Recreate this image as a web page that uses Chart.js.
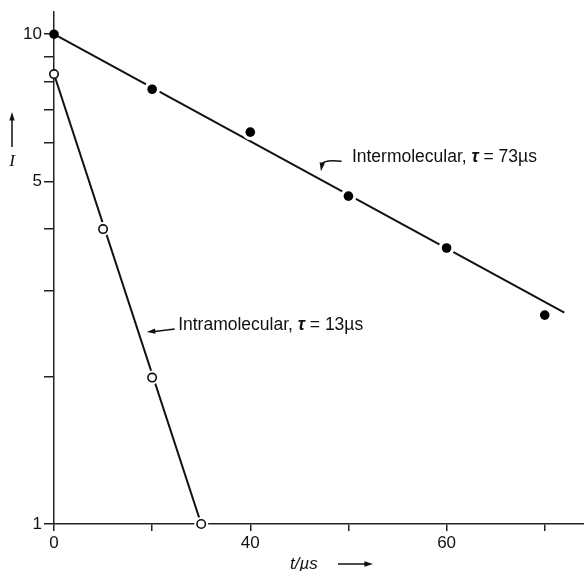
<!DOCTYPE html>
<html>
<head>
<meta charset="utf-8">
<script src="https://cdn.jsdelivr.net/npm/chart.js@4.4.1/dist/chart.umd.min.js"></script>
<style>
  html, body { margin: 0; padding: 0; background: #fff; }
  #wrap { width: 584px; height: 571px; position: relative; }
</style>
</head>
<body>
<div id="wrap"><canvas id="myChart" width="584" height="571"></canvas></div>
<script>
// time in microseconds, intensity (log axis)
const tInter = [0, 20, 40, 60, 80, 100];
const iInter = [10, 7.72, 6.31, 4.67, 3.66, 2.67];
const tIntra = [0, 10, 20, 30];
const iIntra = [8.29, 4.0, 1.99, 1.0];

// straight fitted lines as drawn in the figure
const fitInterT = [0, 104];
const fitInterI = [10, 2.70];
const fitIntraT = [0, 30];
const fitIntraI = [8.29, 1.0];

const xTicks = [0, 20, 40, 60, 80, 100];
const xTickLabels = ['0', '', '40', '', '60', ''];
const yTicks = [1, 2, 3, 4, 5, 6, 7, 8, 9, 10];
const yTickLabels = ['1', '', '', '', '5', '', '', '', '', '10'];

const FONT = '"Liberation Sans", Arial, sans-serif';

function pts(xs, ys) {
    return xs.map((x, i) => ({ x: x, y: ys[i] }));
}

const annotations = {
    id: 'annotations',
    afterDatasetsDraw(chart) {
        const ctx = chart.ctx;
        const xs = chart.scales.x, ys = chart.scales.y;
        const px = v => xs.getPixelForValue(v);
        const py = v => ys.getPixelForValue(v);
        ctx.save();
        ctx.fillStyle = '#111';
        ctx.strokeStyle = '#111';
        ctx.textBaseline = 'middle';

        function label(x, y, parts) {
            let cx = x;
            parts.forEach(p => {
                ctx.font = (p.bold ? 'bold italic ' : '') + '17.5px ' + FONT;
                ctx.fillText(p.t, cx, y);
                cx += ctx.measureText(p.t).width;
            });
        }
        function head(x, y, ang) {
            ctx.beginPath();
            ctx.moveTo(x, y);
            ctx.lineTo(x - 9 * Math.cos(ang - 0.3), y - 9 * Math.sin(ang - 0.3));
            ctx.lineTo(x - 9 * Math.cos(ang + 0.3), y - 9 * Math.sin(ang + 0.3));
            ctx.closePath();
            ctx.fill();
        }

        // intermolecular
        label(px(60.7), py(5.61), [{ t: 'Intermolecular, ' }, { t: 'τ', bold: true }, { t: ' = 73µs' }]);
        let x0 = px(58.6), y0 = py(5.50), x1 = px(54.4), y1 = py(5.25);
        ctx.lineWidth = 1.5;
        ctx.beginPath();
        ctx.moveTo(x0, y0);
        ctx.quadraticCurveTo(x1 + 2, y0 - 2, x1, y1 - 6);
        ctx.stroke();
        head(x1, y1, Math.PI / 2 + 0.15);

        // intramolecular
        label(px(25.3), py(2.55), [{ t: 'Intramolecular, ' }, { t: 'τ', bold: true }, { t: ' = 13µs' }]);
        x0 = px(24.6); y0 = py(2.50); x1 = px(18.9); y1 = py(2.466);
        ctx.beginPath();
        ctx.moveTo(x0, y0);
        ctx.lineTo(x1 + 6, y1 - 0.3);
        ctx.stroke();
        head(x1, y1, Math.atan2(y1 - y0, x1 - x0));

        // axis titles
        ctx.lineWidth = 1.5;
        ctx.beginPath();
        ctx.moveTo(12, 147);
        ctx.lineTo(12, 118);
        ctx.stroke();
        head(12, 112, -Math.PI / 2);
        ctx.font = 'italic 17px "Liberation Serif", serif';
        ctx.textAlign = 'center';
        ctx.fillText('I', 12, 162);

        ctx.textAlign = 'left';
        ctx.font = 'italic 17px ' + FONT;
        ctx.fillText('t/µs', 290, 564);
        ctx.beginPath();
        ctx.moveTo(338, 564);
        ctx.lineTo(366, 564);
        ctx.stroke();
        head(373, 564, 0);
        ctx.restore();
    }
};

const ctx = document.getElementById('myChart').getContext('2d');

new Chart(ctx, {
    type: 'scatter',
    data: {
        datasets: [
            {
                label: 'inter fit',
                data: pts(fitInterT, fitInterI),
                showLine: true,
                borderColor: '#111',
                borderWidth: 2,
                pointRadius: 0,
                order: 3
            },
            {
                label: 'intra fit',
                data: pts(fitIntraT, fitIntraI),
                showLine: true,
                borderColor: '#111',
                borderWidth: 2,
                pointRadius: 0,
                order: 3
            },
            {
                label: 'inter halo',
                data: pts(tInter, iInter),
                pointRadius: ctx => ctx.dataIndex === 0 ? 0 : 8,
                pointBackgroundColor: '#fff',
                pointBorderWidth: 0,
                order: 2,
                clip: false
            },
            {
                label: 'intra halo',
                data: pts(tIntra, iIntra),
                pointRadius: ctx => ctx.dataIndex === 0 ? 0 : 7,
                pointBackgroundColor: '#fff',
                pointBorderWidth: 0,
                order: 2,
                clip: false
            },
            {
                label: 'Intermolecular',
                data: pts(tInter, iInter),
                pointRadius: 4.8,
                pointBackgroundColor: '#000',
                pointBorderColor: '#000',
                pointBorderWidth: 0,
                order: 1,
                clip: false
            },
            {
                label: 'Intramolecular',
                data: pts(tIntra, iIntra),
                pointRadius: 4.2,
                pointBackgroundColor: '#fff',
                pointBorderColor: '#111',
                pointBorderWidth: 1.6,
                order: 1,
                clip: false
            }
        ]
    },
    options: {
        responsive: false,
        animation: false,
        layout: { autoPadding: false, padding: { top: 12, right: 0, left: 0, bottom: 0 } },
        plugins: {
            legend: { display: false },
            tooltip: { enabled: false }
        },
        scales: {
            x: {
                type: 'linear',
                min: 0,
                max: 108,
                afterFit: s => { s.height = 47; s.paddingLeft = 0; s.paddingRight = 0; },
                afterBuildTicks: s => { s.ticks = xTicks.map(v => ({ value: v })); },
                ticks: {
                    color: '#111',
                    font: { family: FONT, size: 17 },
                    padding: 2,
                    maxRotation: 0,
                    autoSkip: false,
                    callback: (v, i) => xTickLabels[i]
                },
                grid: { drawOnChartArea: false, drawTicks: true, tickLength: 7, color: '#222', lineWidth: 1.5 },
                border: { color: '#222', width: 1.5 }
            },
            y: {
                type: 'logarithmic',
                min: 1,
                max: 11.1,
                afterFit: s => { s.width = 54; s.paddingTop = 0; s.paddingBottom = 0; },
                afterBuildTicks: s => { s.ticks = yTicks.map(v => ({ value: v })); },
                ticks: {
                    color: '#111',
                    font: { family: FONT, size: 17 },
                    padding: 2,
                    autoSkip: false,
                    callback: (v, i) => yTickLabels[i]
                },
                grid: { drawOnChartArea: false, drawTicks: true, tickLength: 10, color: '#222', lineWidth: 1.5 },
                border: { color: '#222', width: 1.5 }
            }
        }
    },
    plugins: [annotations]
});
</script>
</body>
</html>
